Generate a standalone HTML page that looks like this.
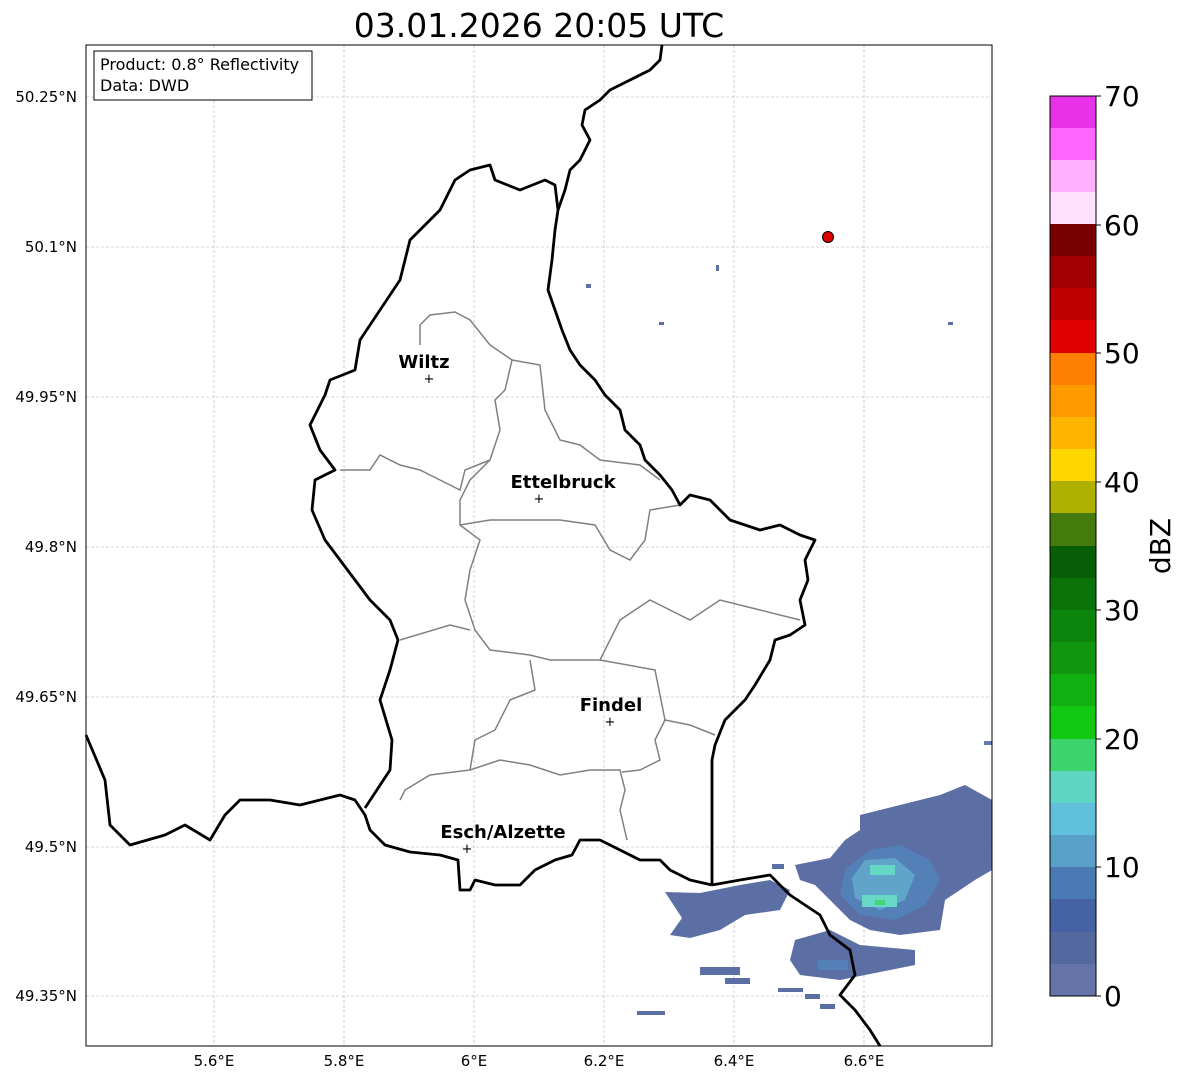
<!DOCTYPE html>
<html><head><meta charset="utf-8"><style>
body{margin:0;background:#fff;font-family:"DejaVu Sans",sans-serif}
</style></head><body>
<svg width="1184" height="1081" xmlns="http://www.w3.org/2000/svg" font-family="DejaVu Sans, sans-serif">
<rect width="1184" height="1081" fill="#fff"/>
<text x="539" y="37" font-size="33" text-anchor="middle">03.01.2026 20:05 UTC</text>
<g stroke="#b0b0b0" stroke-width="0.6" stroke-dasharray="3,2">
<line x1="214" y1="45" x2="214" y2="1046"/><line x1="344" y1="45" x2="344" y2="1046"/><line x1="474" y1="45" x2="474" y2="1046"/><line x1="604" y1="45" x2="604" y2="1046"/><line x1="734" y1="45" x2="734" y2="1046"/><line x1="864" y1="45" x2="864" y2="1046"/>
<line x1="86" y1="97" x2="992" y2="97"/><line x1="86" y1="247" x2="992" y2="247"/><line x1="86" y1="397" x2="992" y2="397"/><line x1="86" y1="547" x2="992" y2="547"/><line x1="86" y1="697" x2="992" y2="697"/><line x1="86" y1="847" x2="992" y2="847"/><line x1="86" y1="996" x2="992" y2="996"/>
</g>
<g font-size="15" text-anchor="end">
<text x="77" y="102">50.25°N</text><text x="77" y="252">50.1°N</text><text x="77" y="402">49.95°N</text><text x="77" y="552">49.8°N</text><text x="77" y="702">49.65°N</text><text x="77" y="852">49.5°N</text><text x="77" y="1001">49.35°N</text>
</g>
<g font-size="15" text-anchor="middle">
<text x="214" y="1066">5.6°E</text><text x="344" y="1066">5.8°E</text><text x="474" y="1066">6°E</text><text x="604" y="1066">6.2°E</text><text x="734" y="1066">6.4°E</text><text x="864" y="1066">6.6°E</text>
</g>
<!-- radar echoes -->
<g opacity="0.95">
<rect x="586" y="284" width="5" height="4" fill="#5468a0"/><rect x="716" y="265" width="3" height="6" fill="#5468a0"/><rect x="659" y="322" width="5" height="3" fill="#5468a0"/><rect x="948" y="322" width="5" height="3" fill="#5468a0"/>
<rect x="984" y="741" width="8" height="4" fill="#5a72b0"/>
<path d="M860,815 L900,805 L940,795 L965,785 L992,800 L992,870 L975,880 L945,900 L940,930 L900,935 L870,930 L850,920 L830,900 L815,885 L800,880 L795,865 L830,858 L845,840 L860,830Z" fill="#5468a0"/>
<path d="M870,850 L900,845 L930,860 L940,880 L925,905 L895,920 L860,915 L840,895 L845,870Z" fill="#4a7ab4"/>
<path d="M865,860 L895,858 L915,875 L905,900 L880,910 L855,898 L852,878Z" fill="#58a0c8"/>
<rect x="870" y="865" width="25" height="10" fill="#5fd6c4"/><rect x="862" y="895" width="35" height="12" fill="#5fd6c4"/><rect x="875" y="900" width="10" height="5" fill="#3cd46c"/>
<path d="M665,892 L700,893 L740,885 L770,880 L790,890 L780,910 L745,915 L720,930 L690,938 L670,935 L682,918Z" fill="#5468a0"/>
<path d="M795,940 L830,930 L860,945 L915,950 L915,965 L880,972 L840,980 L800,975 L790,960Z" fill="#5468a0"/>
<rect x="818" y="960" width="30" height="10" fill="#4a7ab4"/>
<rect x="700" y="967" width="40" height="8" fill="#5468a0"/><rect x="725" y="978" width="25" height="6" fill="#5468a0"/>
<rect x="778" y="988" width="25" height="4" fill="#5468a0"/><rect x="805" y="994" width="15" height="5" fill="#5468a0"/><rect x="820" y="1004" width="15" height="5" fill="#5468a0"/>
<rect x="637" y="1011" width="28" height="4" fill="#5468a0"/><rect x="772" y="864" width="12" height="5" fill="#5468a0"/>
</g>
<!-- canton borders -->
<g fill="none" stroke="#808080" stroke-width="1.5">
<polyline points="340,470 370,470 380,455 400,465 420,470 440,480 460,490 465,470 490,460 500,430 495,400 505,390 512,360 490,345 470,320 455,312 430,315 420,325 420,345"/>
<polyline points="512,360 540,365 545,410 560,440 580,445 600,460 640,465 660,480"/>
<polyline points="490,460 470,480 460,500 460,525 490,520 530,520 560,520 595,525 610,550 630,560 645,540 650,510 680,505"/>
<polyline points="460,525 480,540 470,570 465,600 475,630 490,650 530,655 550,660 600,660 620,620 650,600 690,620 720,600 760,610 800,620"/>
<polyline points="400,640 450,625 470,630"/>
<polyline points="530,660 535,690 510,700 495,730 475,740 470,770 430,775 405,790 400,800"/>
<polyline points="600,660 655,670 665,720 690,725 715,735"/>
<polyline points="470,770 500,760 530,765 560,775 590,770 620,770 625,790 620,810 627,840"/>
<polyline points="665,720 655,740 660,760 640,770 622,772"/>
</g>
<!-- country borders -->
<g fill="none" stroke="#000" stroke-width="2.8" stroke-linejoin="round">
<polyline points="662,45 660,60 650,70 630,80 610,90 600,100 585,110 582,125 590,140 580,160 570,170 565,190 558,210 555,230 552,260 548,290 555,310 562,330 570,350 580,365 595,380 605,395 620,410 625,430 640,445 645,460 660,475 672,490 680,505 690,495 710,500 730,520 760,530 780,525 800,535 815,540 805,560 808,580 800,600 805,625 790,635 775,640 770,660 755,685 745,700 725,720 715,745 712,760 712,800 712,840 712,885"/>
<polyline points="712,885 690,880 670,870 660,860 640,860 620,850 600,840 580,840 572,855 555,860 535,870 520,885 495,885 475,880 470,890 460,890 458,860 440,855 410,852 385,845 370,830 365,815 355,800 340,795 320,800 300,805 270,800 240,800 225,815 210,840 185,825 165,835 130,845 110,825 105,780 86,735"/>
<polyline points="712,885 740,880 770,875 790,895 820,915 830,935 850,950 855,975 840,995 855,1010 870,1030 880,1046"/>
<polyline points="365,808 390,770 392,740 380,700 390,670 398,640 390,620 370,600 355,580 340,560 325,540 312,510 315,480 335,470 320,450 310,425 325,395 330,380 355,370 360,340 380,310 400,280 410,240 440,210 455,180 470,170 490,165 495,180 520,190 545,180 555,185 558,210"/>
</g>
<!-- cities -->
<g font-size="18" font-weight="bold" text-anchor="middle">
<text x="424" y="368">Wiltz</text><text x="563" y="488">Ettelbruck</text><text x="611" y="711">Findel</text><text x="503" y="838">Esch/Alzette</text>
</g>
<g font-size="13" text-anchor="middle"><text x="429" y="383">+</text><text x="539" y="503">+</text><text x="610" y="726">+</text><text x="467" y="853">+</text></g>
<circle cx="828" cy="237" r="5.5" fill="#e00000" stroke="#000" stroke-width="1"/>
<rect x="86" y="45" width="906" height="1001" fill="none" stroke="#000" stroke-width="1"/>
<rect x="94" y="51" width="218" height="49" fill="#fff" stroke="#000" stroke-width="1"/>
<text x="100" y="70" font-size="16">Product: 0.8° Reflectivity</text>
<text x="100" y="91" font-size="16">Data: DWD</text>
<!-- colorbar -->
<g>
<rect x="1050" y="96" width="46" height="33" fill="#e832e8"/><rect x="1050" y="128" width="46" height="33" fill="#ff66ff"/><rect x="1050" y="160" width="46" height="33" fill="#ffb0ff"/><rect x="1050" y="192" width="46" height="33" fill="#ffe0ff"/>
<rect x="1050" y="224" width="46" height="33" fill="#780000"/><rect x="1050" y="256" width="46" height="33" fill="#a00000"/><rect x="1050" y="288" width="46" height="33" fill="#c00000"/><rect x="1050" y="320" width="46" height="33" fill="#e00000"/>
<rect x="1050" y="353" width="46" height="33" fill="#ff8000"/><rect x="1050" y="385" width="46" height="33" fill="#ff9900"/><rect x="1050" y="417" width="46" height="33" fill="#ffb400"/><rect x="1050" y="449" width="46" height="33" fill="#ffd700"/>
<rect x="1050" y="481" width="46" height="33" fill="#b0b000"/><rect x="1050" y="513" width="46" height="33" fill="#457a0c"/><rect x="1050" y="546" width="46" height="33" fill="#075e07"/><rect x="1050" y="578" width="46" height="33" fill="#0a730a"/>
<rect x="1050" y="610" width="46" height="33" fill="#0d850d"/><rect x="1050" y="642" width="46" height="33" fill="#0f970f"/><rect x="1050" y="674" width="46" height="33" fill="#10b010"/><rect x="1050" y="706" width="46" height="33" fill="#12c812"/>
<rect x="1050" y="739" width="46" height="33" fill="#3cd46c"/><rect x="1050" y="771" width="46" height="33" fill="#5fd6c4"/><rect x="1050" y="803" width="46" height="33" fill="#60c0dc"/><rect x="1050" y="835" width="46" height="33" fill="#58a0c8"/>
<rect x="1050" y="867" width="46" height="33" fill="#4a7ab4"/><rect x="1050" y="899" width="46" height="33" fill="#4462a4"/><rect x="1050" y="932" width="46" height="33" fill="#5468a0"/><rect x="1050" y="964" width="46" height="32" fill="#6474a8"/>
<rect x="1050" y="96" width="46" height="900" fill="none" stroke="#000" stroke-width="1"/>
<g stroke="#000"><line x1="1096" y1="96" x2="1101" y2="96"/><line x1="1096" y1="225" x2="1101" y2="225"/><line x1="1096" y1="353" x2="1101" y2="353"/><line x1="1096" y1="482" x2="1101" y2="482"/><line x1="1096" y1="610" x2="1101" y2="610"/><line x1="1096" y1="739" x2="1101" y2="739"/><line x1="1096" y1="867" x2="1101" y2="867"/><line x1="1096" y1="996" x2="1101" y2="996"/></g>
<g font-size="28"><text x="1104" y="106">70</text><text x="1104" y="235">60</text><text x="1104" y="363">50</text><text x="1104" y="492">40</text><text x="1104" y="620">30</text><text x="1104" y="749">20</text><text x="1104" y="877">10</text><text x="1104" y="1006">0</text></g>
<text transform="translate(1170,546) rotate(-90)" font-size="28" text-anchor="middle">dBZ</text>
</g>
</svg>
</body></html>
